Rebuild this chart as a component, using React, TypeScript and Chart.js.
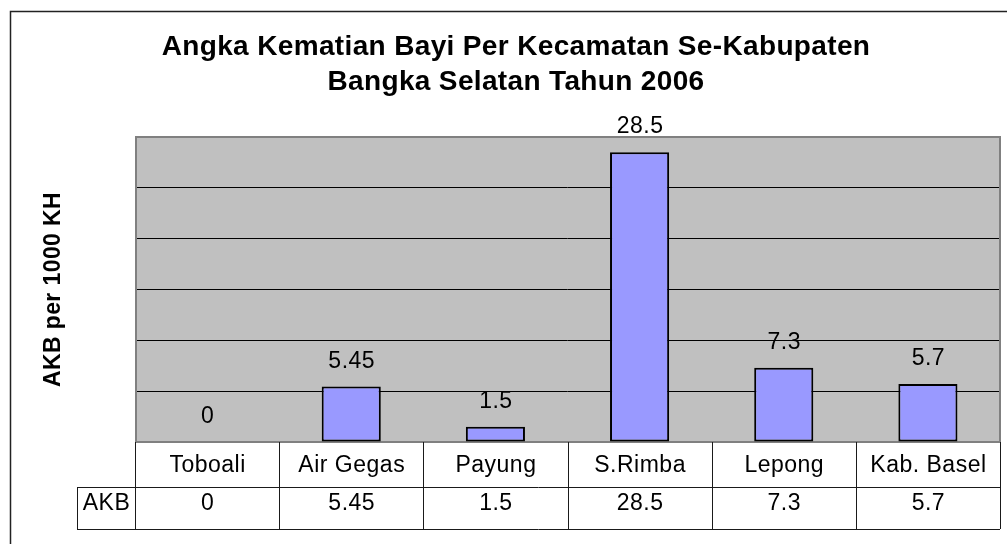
import { useEffect, useRef } from 'react';
import { Chart, registerables } from 'chart.js';

Chart.register(...registerables);

// ---- Data ----
const categories = ['Toboali', 'Air Gegas', 'Payung', 'S.Rimba', 'Lepong', 'Kab. Basel'];
const akbValues = [0, 5.45, 1.5, 28.5, 7.3, 5.7];
const seriesName = 'AKB';
const titleLines = ['Angka Kematian Bayi Per Kecamatan Se-Kabupaten', 'Bangka Selatan Tahun 2006'];
const yAxisTitle = 'AKB per 1000 KH';
const yMin = 0;
const yMax = 30;
const yStep = 5;

const FONT = '"Liberation Sans", Arial, Helvetica, sans-serif';

const excelPlugin = {
  id: 'excelLook',
  beforeDraw(chart: any) {
    const { ctx, chartArea: a } = chart;
    ctx.save();
    ctx.fillStyle = '#ffffff';
    ctx.fillRect(0, 0, chart.width, chart.height);
    // outer chart frame (extends past the viewport on right/bottom)
    ctx.strokeStyle = '#222';
    ctx.lineWidth = 1.5;
    ctx.strokeRect(10.5, 11.5, 1200, 800);
    // plot area background
    ctx.fillStyle = '#C0C0C0';
    ctx.fillRect(a.left, a.top, a.right - a.left, a.bottom - a.top);
    ctx.restore();
  },
  beforeDatasetsDraw(chart: any) {
    const { ctx, chartArea: a } = chart;
    ctx.save();
    ctx.strokeStyle = '#808080';
    ctx.lineWidth = 2;
    ctx.strokeRect(a.left + 1, a.top, a.right - a.left - 1, a.bottom - a.top);
    ctx.restore();
  },
  afterDatasetsDraw(chart: any) {
    const { ctx } = chart;
    const meta = chart.getDatasetMeta(0);
    const data = chart.data.datasets[0].data as number[];
    ctx.save();
    ctx.fillStyle = '#000';
    ctx.font = `23px ${FONT}`;
    (ctx as any).letterSpacing = '0.5px';
    ctx.textAlign = 'center';
    ctx.textBaseline = 'alphabetic';
    meta.data.forEach((el: any, i: number) => {
      ctx.fillText(String(data[i]), el.x + 0.5, el.y - 19);
    });
    ctx.restore();
  },
  afterDraw(chart: any) {
    const { ctx, chartArea: a } = chart;
    const xScale = chart.scales.x;
    const labels = chart.data.labels as string[];
    const data = chart.data.datasets[0].data as number[];
    const n = labels.length;
    const cw = (a.right - a.left) / n;
    const row1Top = a.bottom;
    const row1Bottom = 487;
    const row2Bottom = 529;
    const labelLeft = 77;

    ctx.save();
    // title
    ctx.fillStyle = '#000';
    ctx.textAlign = 'center';
    ctx.textBaseline = 'alphabetic';
    ctx.font = `bold 28px ${FONT}`;
    (ctx as any).letterSpacing = '0.35px';
    ctx.fillText(titleLines[0], 516, 55);
    ctx.fillText(titleLines[1], 516, 90);

    // y axis title
    ctx.save();
    ctx.font = `bold 23px ${FONT}`;
    (ctx as any).letterSpacing = '0.4px';
    ctx.translate(60, (a.top + a.bottom) / 2);
    ctx.rotate(-Math.PI / 2);
    ctx.fillText(yAxisTitle, 0, 0);
    ctx.restore();

    // data table lines
    ctx.strokeStyle = '#1a1a1a';
    ctx.lineWidth = 1;
    ctx.beginPath();
    for (let i = 0; i <= n; i++) {
      const x = Math.round(a.left + i * cw) + 0.5;
      ctx.moveTo(x, row1Top);
      ctx.lineTo(x, row2Bottom);
    }
    ctx.moveTo(labelLeft + 0.5, row1Bottom);
    ctx.lineTo(labelLeft + 0.5, row2Bottom);
    ctx.moveTo(labelLeft, row1Bottom + 0.5);
    ctx.lineTo(a.right, row1Bottom + 0.5);
    ctx.moveTo(labelLeft, row2Bottom + 0.5);
    ctx.lineTo(a.right, row2Bottom + 0.5);
    ctx.stroke();

    // data table text
    ctx.font = `23px ${FONT}`;
    (ctx as any).letterSpacing = '0.5px';
    labels.forEach((lab, i) => {
      const cx = xScale.getPixelForValue(i) + 0.5;
      ctx.fillText(lab, cx, 472);
      ctx.fillText(String(data[i]), cx, 510);
    });
    ctx.fillText(chart.data.datasets[0].label, (labelLeft + a.left) / 2 + 0.5, 510);
    ctx.restore();
  },
};

export default function App() {
  const ref = useRef<HTMLCanvasElement>(null);
  useEffect(() => {
    const canvas = ref.current;
    if (!canvas) return;
    const chart = new Chart(canvas, {
      type: 'bar',
      data: {
        labels: categories,
        datasets: [
          {
            label: seriesName,
            data: akbValues,
            backgroundColor: '#9999FF',
            borderColor: '#000000',
            borderWidth: (c: any) => (c.raw === 0 ? 0 : 2),
            borderSkipped: false,
            barPercentage: 0.41,
            categoryPercentage: 1,
          },
        ],
      },
      options: {
        responsive: true,
        maintainAspectRatio: false,
        animation: false,
        layout: { padding: { left: 135, top: 137, right: 7, bottom: 102 } },
        plugins: {
          legend: { display: false },
          title: { display: false },
          tooltip: { enabled: false },
        },
        scales: {
          x: { display: false },
          y: {
            min: yMin,
            max: yMax,
            ticks: { stepSize: yStep, display: false },
            border: { display: false },
            grid: { color: '#000000', lineWidth: 1, drawTicks: false },
            afterFit: (s: any) => {
              s.width = 0;
            },
          },
        },
      },
      plugins: [excelPlugin],
    } as any);
    return () => chart.destroy();
  }, []);
  return (
    <div style={{ position: 'fixed', left: 0, top: 0, width: 1007, height: 544, background: '#fff' }}>
      <canvas ref={ref} />
    </div>
  );
}
